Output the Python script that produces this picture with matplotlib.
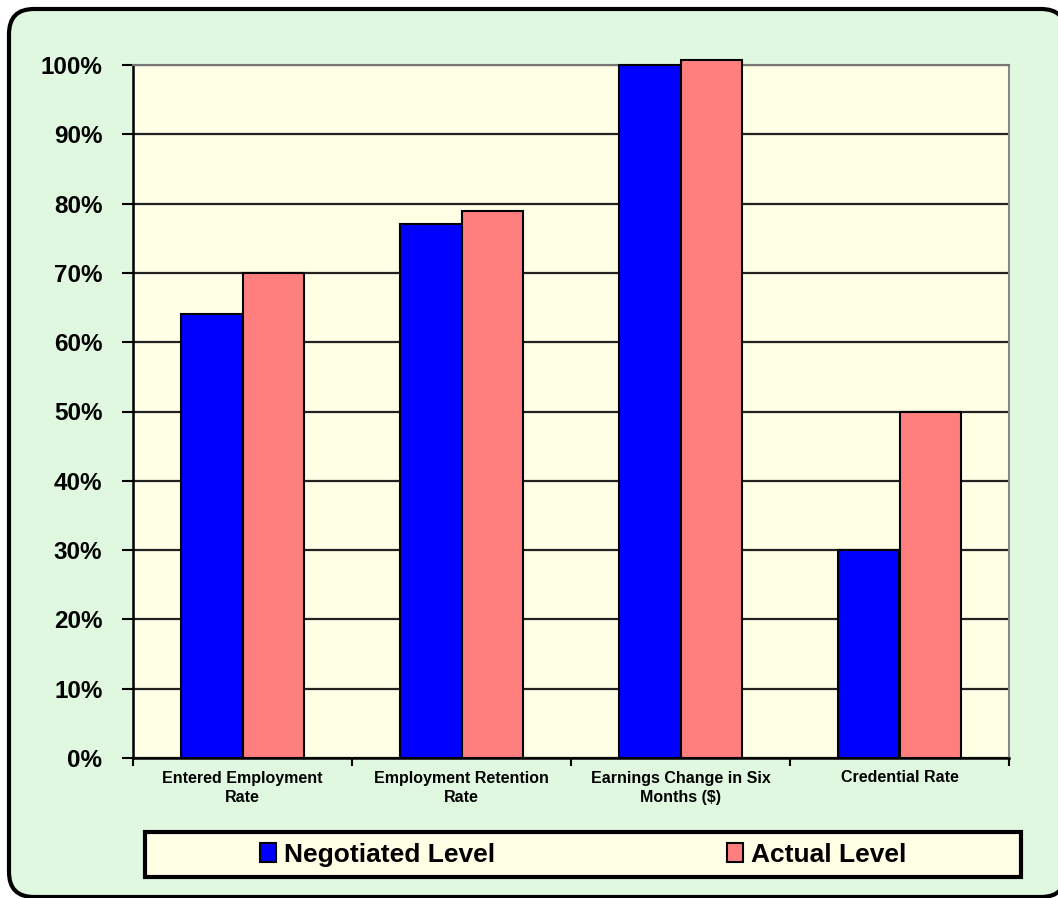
import matplotlib
matplotlib.use("Agg")
import matplotlib.pyplot as plt
import numpy as np
from matplotlib.patches import FancyBboxPatch, Rectangle

categories = ["Entered Employment\nRate", "Employment Retention\nRate",
              "Earnings Change in Six\nMonths ($)", "Credential Rate"]
negotiated = [64, 77, 100, 30]
actual = [70, 79, 100.7, 50]
series_names = ["Negotiated Level", "Actual Level"]
yticks = [0, 10, 20, 30, 40, 50, 60, 70, 80, 90, 100]
ytick_labels = [f"{v}%" for v in yticks]

plt.rcParams['font.family'] = ['Liberation Sans', 'DejaVu Sans']

W, H = 1058, 898
fig = plt.figure(figsize=(W/100, H/100), dpi=100)
fig.patch.set_facecolor('white')

# rounded outer panel (right edge just past the image edge, as in the reference)
panel = FancyBboxPatch((9/100, 1/100), (1066-9)/100, (897-9)/100,
                       boxstyle="round,pad=0,rounding_size=0.25",
                       transform=fig.dpi_scale_trans, facecolor='#dff8df',
                       edgecolor='black', linewidth=3, zorder=-10)
fig.patches.append(panel)

# legend box
lbox = Rectangle((145/W, 1-877/H), (1021-145)/W, (877-832)/H,
                 transform=fig.transFigure, facecolor='#ffffe6',
                 edgecolor='black', linewidth=3, zorder=-5)
fig.patches.append(lbox)

ax = fig.add_axes([133/W, 1-758/H, (1009-133)/W, (758-65)/H])
ax.set_zorder(1)
ax.set_facecolor('#ffffe6')

x = np.arange(len(categories))
w = 0.283
b1 = ax.bar(x - w/2, negotiated, w, color='#0000ff', edgecolor='black',
            linewidth=1.5, zorder=3, clip_on=False, label=series_names[0])
b2 = ax.bar(x + w/2, actual, w, color='#ff7f7f', edgecolor='black',
            linewidth=1.5, zorder=3, clip_on=False, label=series_names[1])

ax.set_xlim(-0.5, len(categories) - 0.5)
ax.set_ylim(0, 100)
ax.set_yticks(yticks)
ax.set_yticklabels(ytick_labels, fontsize=17.5, fontweight='bold')
ax.yaxis.grid(True, color='#222222', linewidth=1.6, zorder=1)
ax.set_axisbelow(True)
ax.tick_params(axis='y', length=8, width=1.5, pad=14)

ax.set_xticks(x)
ax.set_xticklabels(categories, fontsize=11.5, fontweight='bold', linespacing=1.4)
ax.tick_params(axis='x', which='major', length=0, pad=9)
ax.set_xticks(np.arange(-0.5, len(categories)), minor=True)
ax.tick_params(axis='x', which='minor', length=6, width=1.5)

for s in ['left', 'bottom']:
    ax.spines[s].set_linewidth(1.8)
    ax.spines[s].set_color('black')
ax.spines['right'].set_color('#888888')
ax.spines['right'].set_linewidth(1.5)
ax.spines['top'].set_color('#777777')
ax.spines['top'].set_linewidth(1.5)

leg = fig.legend(handles=[b1, b2], labels=series_names, loc='center',
                 bbox_to_anchor=(583/W, 1-855/H),
                 ncol=2, frameon=False,
                 prop={'size': 19, 'weight': 'bold'}, handlelength=0.6,
                 handleheight=0.75, handletextpad=0.3, columnspacing=8.8,
                 borderaxespad=0)

fig.savefig('out.png', dpi=100, facecolor=fig.get_facecolor())
